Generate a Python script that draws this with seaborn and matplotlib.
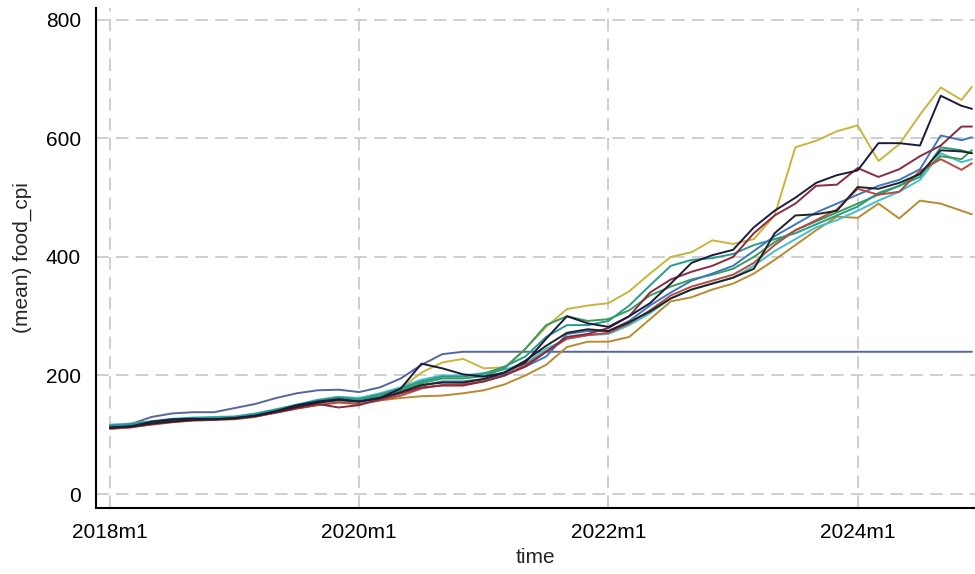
import numpy as np
import pandas as pd
import matplotlib
matplotlib.use("Agg")
import matplotlib.pyplot as plt
import seaborn as sns

# months since 2018m1 (every second month, plus 2024m12)
months = [0, 2, 4, 6, 8, 10, 12, 14, 16, 18, 20, 22, 24, 26, 28, 30, 32, 34, 36, 38,
          40, 42, 44, 46, 48, 50, 52, 54, 56, 58, 60, 62, 64, 66, 68, 70, 72, 74, 76, 78,
          80, 82, 83]

navy_black = [112, 114, 122, 126, 127, 126, 128, 132, 140, 150, 156, 160, 156, 162, 178, 220, 212, 202, 198, 205,
              222, 262, 300, 288, 282, 300, 322, 355, 390, 403, 412, 450, 478, 500, 525, 538, 546, 592, 592, 588,
              672, 655, 650]
gold = [115, 118, 121, 125, 127, 128, 130, 135, 143, 150, 158, 164, 160, 166, 178, 205, 222, 228, 212, 214,
        245, 282, 312, 318, 322, 342, 372, 400, 408, 428, 422, 430, 470, 585, 596, 612, 622, 562, 590, 640,
        686, 665, 687]
brown = [110, 112, 118, 122, 124, 125, 126, 130, 138, 145, 150, 154, 152, 158, 162, 165, 166, 170, 175, 185,
         200, 218, 248, 257, 257, 265, 295, 325, 332, 345, 355, 372, 395, 420, 445, 468, 466, 490, 465, 495,
         490, 478, 472]
maroon = [111, 113, 118, 123, 125, 126, 127, 131, 138, 145, 152, 146, 150, 160, 170, 180, 183, 183, 190, 200,
          215, 240, 265, 270, 280, 300, 340, 362, 375, 385, 400, 440, 470, 490, 520, 522, 550, 535, 548, 570,
          588, 620, 620]
blue = [114, 115, 119, 123, 125, 126, 128, 132, 139, 147, 154, 158, 156, 162, 170, 183, 190, 190, 194, 202,
        215, 232, 270, 275, 275, 292, 318, 340, 360, 372, 385, 410, 435, 455, 475, 490, 505, 520, 530, 548,
        605, 597, 602]
teal = [115, 118, 122, 126, 128, 129, 130, 135, 142, 150, 158, 163, 160, 168, 178, 190, 198, 198, 203, 215,
        232, 265, 285, 285, 292, 318, 352, 385, 395, 398, 405, 420, 430, 440, 455, 470, 485, 508, 520, 535,
        585, 580, 575]
green = [116, 117, 121, 124, 126, 127, 129, 134, 141, 149, 156, 161, 158, 165, 175, 187, 195, 195, 199, 212,
         245, 285, 300, 292, 295, 310, 335, 350, 362, 370, 380, 400, 425, 445, 460, 475, 490, 505, 520, 540,
         570, 565, 580]
cyan = [117, 119, 123, 127, 129, 130, 131, 136, 143, 151, 159, 164, 162, 170, 180, 193, 200, 200, 204, 210,
        220, 245, 262, 268, 270, 285, 305, 330, 345, 355, 365, 385, 410, 430, 450, 462, 478, 495, 510, 530,
        575, 560, 565]
black = [112, 114, 119, 122, 125, 126, 128, 132, 139, 147, 154, 159, 156, 162, 172, 184, 188, 188, 194, 205,
         225, 250, 272, 278, 275, 290, 308, 330, 345, 355, 365, 380, 440, 470, 472, 478, 518, 515, 525, 540,
         580, 578, 575]
red = [110, 113, 117, 121, 124, 125, 127, 131, 137, 144, 150, 155, 152, 158, 166, 178, 184, 185, 190, 200,
       218, 240, 262, 268, 272, 288, 310, 335, 350, 360, 370, 390, 420, 445, 462, 480, 515, 505, 510, 545,
       565, 547, 558]
slate = [115, 118, 130, 136, 138, 138, 145, 152, 162, 170, 175, 176, 172, 180, 195, 218, 236, 240, 240, 240,
         240, 240, 240, 240, 240, 240, 240, 240, 240, 240, 240, 240, 240, 240, 240, 240, 240, 240, 240, 240,
         240, 240, 240]

series = {
    "slate": slate, "brown": brown, "gold": gold, "cyan": cyan, "green": green,
    "teal": teal, "blue": blue, "red": red, "maroon": maroon, "black": black,
    "navy_black": navy_black,
}
colors = {
    "slate": "#56659a", "brown": "#b88b30", "gold": "#c9b43c", "cyan": "#44bfc8",
    "green": "#3d9a5a", "teal": "#2a9a88", "blue": "#3b78c2", "red": "#b54a45",
    "maroon": "#8a2a3e", "black": "#222222", "navy_black": "#1b1b3d",
}

xtick_pos = [0, 24, 48, 72]
xtick_labels = ["2018m1", "2020m1", "2022m1", "2024m1"]
ytick_pos = [0, 200, 400, 600, 800]

rows = []
for name, vals in series.items():
    for m, v in zip(months, vals):
        rows.append({"month": m, "food_cpi": v, "series": name})
df = pd.DataFrame(rows)

sns.set_style("white")
plt.rcParams["font.family"] = ["Liberation Sans", "DejaVu Sans"]

fig = plt.figure(figsize=(9.75, 5.74), dpi=100)
ax = fig.add_axes([0.0985, 0.115, 0.9015, 0.871])

# dashed grid like Stata
for x in xtick_pos:
    ax.axvline(x, color="#cccccc", lw=1.3, ls=(0, (7, 4)), zorder=0)
for y in ytick_pos:
    ax.axhline(y, color="#cccccc", lw=1.3, ls=(0, (7, 4)), zorder=0)

sns.lineplot(data=df, x="month", y="food_cpi", hue="series", palette=colors,
             hue_order=list(series.keys()), legend=False, linewidth=1.4, ax=ax)

ax.set_xlim(-1.35, 83.3)
ax.set_ylim(-23.6, 820)
ax.set_xticks(xtick_pos)
ax.set_xticklabels(xtick_labels)
ax.set_yticks(ytick_pos)

for s in ["top", "right"]:
    ax.spines[s].set_visible(False)
for s in ["left", "bottom"]:
    ax.spines[s].set_color("black")
    ax.spines[s].set_linewidth(1.5)

ax.tick_params(axis="both", direction="out", length=7, width=1.2, colors="black",
               labelsize=15, pad=4)
ax.set_xlabel("time", fontsize=15, labelpad=4)
ax.set_ylabel("(mean) food_cpi", fontsize=15, labelpad=10)

fig.savefig("out.png", dpi=100)
